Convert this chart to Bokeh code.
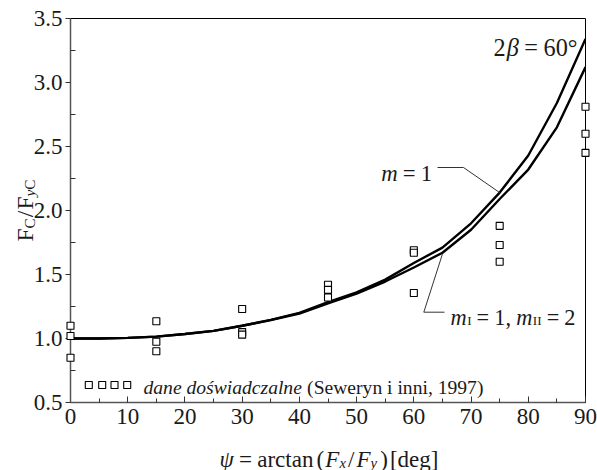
import glob
import os
import math

from bokeh.plotting import figure
from bokeh.models import Range1d, FixedTicker, PrintfTickFormatter, ColumnDataSource
from bokeh.core.properties import value
from bokeh.embed import file_html
from bokeh.resources import INLINE

# ---------------- data ----------------
psi_curve = [0, 5, 10, 15, 20, 25, 30, 35, 40, 45, 50, 55, 60, 65, 70, 75, 80, 85, 90]
fc_m1 = [1.00, 1.00, 1.005, 1.015, 1.035, 1.06, 1.10, 1.145, 1.20, 1.285, 1.36,
         1.46, 1.59, 1.71, 1.90, 2.14, 2.43, 2.84, 3.34]
fc_m1_m2 = [1.00, 1.00, 1.005, 1.015, 1.035, 1.06, 1.10, 1.143, 1.195, 1.275, 1.35,
            1.445, 1.555, 1.67, 1.85, 2.09, 2.32, 2.65, 3.12]

exp_psi = [0, 0, 0, 15, 15, 15, 30, 30, 30, 45, 45, 45, 60, 60, 60, 75, 75, 75, 90, 90, 90]
exp_fc = [1.10, 1.02, 0.85, 1.135, 0.975, 0.90, 1.23, 1.05, 1.03, 1.42, 1.38, 1.32,
          1.69, 1.67, 1.355, 1.88, 1.73, 1.60, 2.81, 2.60, 2.45]

x_ticks = [0, 10, 20, 30, 40, 50, 60, 70, 80, 90]
y_ticks = [0.5, 1.0, 1.5, 2.0, 2.5, 3.0, 3.5]

# ---------------- layout ----------------
W, H = 597, 470
LEFT, RIGHT, TOP, BOTTOM = 70, 585, 18, 402
X0, X1, Y0, Y1 = 0.0, 90.0, 0.5, 3.5
FONT = "Liberation Serif"
TXT = "#1a1a1a"


def px2d(px, py):
    return (X0 + (px - LEFT) * (X1 - X0) / (RIGHT - LEFT),
            Y0 + (BOTTOM - py) * (Y1 - Y0) / (BOTTOM - TOP))


def d2px(x, y):
    return (LEFT + (x - X0) * (RIGHT - LEFT) / (X1 - X0),
            BOTTOM - (y - Y0) * (BOTTOM - TOP) / (Y1 - Y0))


_fonts = {}


def _font(italic):
    if italic in _fonts:
        return _fonts[italic]
    f = None
    try:
        from PIL import ImageFont
        name = "LiberationSerif-Italic.ttf" if italic else "LiberationSerif-Regular.ttf"
        for d in ("/usr/share/fonts", "/usr/local/share/fonts", os.path.expanduser("~/.fonts")):
            hits = glob.glob(os.path.join(d, "**", name), recursive=True)
            if hits:
                f = ImageFont.truetype(hits[0], 100)
                break
    except Exception:
        f = None
    _fonts[italic] = f
    return f


def text_width(t, size, italic):
    f = _font(italic)
    if f is not None:
        try:
            return f.getlength(t) * size / 100.0
        except Exception:
            pass
    return 0.5 * size * len(t)


txt = dict(x=[], y=[], text=[], size=[], style=[], angle=[])


def rich(x_px, y_px, runs, angle=0.0, target=None):
    # runs: (text, size, italic, shift_down_px, pad_before_px)
    scale = 1.0
    if target:
        tot = sum(text_width(t, s, it) + pad for t, s, it, sh, pad in runs)
        if tot > 0:
            scale = target / tot
    c, s = math.cos(angle), math.sin(angle)
    adv = 0.0
    for t, size, italic, shift, pad in runs:
        size = size * scale
        adv += pad * scale
        sh = shift * scale
        bx = x_px + adv * c + sh * s
        by = y_px - adv * s + sh * c
        xd, yd = px2d(bx, by)
        txt["x"].append(xd)
        txt["y"].append(yd)
        txt["text"].append(t)
        txt["size"].append(f"{size:.2f}px")
        txt["style"].append("italic" if italic else "normal")
        txt["angle"].append(angle)
        adv += text_width(t, size, italic)


p = figure(width=W, height=H, output_backend="svg", toolbar_location=None,
           x_range=Range1d(X0, X1), y_range=Range1d(Y0, Y1),
           min_border_left=LEFT, min_border_right=W - RIGHT,
           min_border_top=TOP, min_border_bottom=H - BOTTOM)
p.background_fill_color = "white"
p.border_fill_color = "white"
p.outline_line_color = "black"
p.outline_line_width = 1
p.grid.visible = False

x_minor = [(a + b) / 2 for a, b in zip(x_ticks[:-1], x_ticks[1:])]
y_minor = [(a + b) / 2 for a, b in zip(y_ticks[:-1], y_ticks[1:])]
p.xaxis.ticker = FixedTicker(ticks=x_ticks, minor_ticks=x_minor)
p.yaxis.ticker = FixedTicker(ticks=y_ticks, minor_ticks=y_minor)
p.yaxis.formatter = PrintfTickFormatter(format="%.1f")

for ax in (p.xaxis, p.yaxis):
    ax.axis_line_color = "#555555"
    ax.axis_line_width = 1.5
    ax.major_tick_line_color = "#333333"
    ax.minor_tick_line_color = "#333333"
    ax.major_label_text_font = FONT
    ax.major_label_text_font_size = "23px"
    ax.major_label_text_color = TXT

p.xaxis.major_tick_in = 6
p.xaxis.major_tick_out = 0
p.xaxis.minor_tick_in = 4
p.xaxis.minor_tick_out = 0
p.xaxis.major_label_standoff = 6

p.yaxis.major_tick_in = 0
p.yaxis.major_tick_out = 5
p.yaxis.minor_tick_in = 5
p.yaxis.minor_tick_out = 0
p.yaxis.major_label_standoff = 3

# curves
p.line(psi_curve, fc_m1, line_color="black", line_width=2.4)
p.line(psi_curve, fc_m1_m2, line_color="black", line_width=2.4)

# experimental data (overlay level so the edge squares are not cut by the frame)
p.scatter(exp_psi, exp_fc, marker="square", size=7, fill_color="white",
          line_color="black", line_width=1.1, level="overlay")

# legend squares
leg_px = [88.3, 101.7, 114.0, 126.7]
leg_pts = [px2d(x, 384.5) for x in leg_px]
p.scatter([q[0] for q in leg_pts], [q[1] for q in leg_pts], marker="square", size=7,
          fill_color="white", line_color="black", line_width=1.1)
rich(143, 387, [("dane doświadczalne", 19, True, 0, 0),
                ("(Seweryn i inni, 1997)", 19, False, 0, 5)], target=340)

# leader line for m = 1 (ends on upper curve at psi = 75)
ex, ey = d2px(psi_curve[15], fc_m1[15])
pts = [(437, 167), (463, 167), (ex, ey)]
dd = [px2d(a, b) for a, b in pts]
p.line([q[0] for q in dd], [q[1] for q in dd], line_color="#333333", line_width=1)

# leader line for m_I = 1, m_II = 2 (ends on lower curve at psi = 65)
ex, ey = d2px(psi_curve[13], fc_m1_m2[13] - 0.01)
pts = [(444, 311.7), (423.3, 311.7), (ex, ey)]
dd = [px2d(a, b) for a, b in pts]
p.line([q[0] for q in dd], [q[1] for q in dd], line_color="#333333", line_width=1)

# annotations
rich(493, 46.5, [("2", 22, False, 0, 0), ("β", 22, True, 0, 1),
                 ("=", 22, False, 0, 5), ("60°", 22, False, 0, 5)], target=84)
rich(380.7, 173, [("m", 22, True, 0, 0), ("=", 22, False, 0, 5),
                  ("1", 22, False, 0, 5)], target=51)
rich(450, 316.5, [("m", 22, True, 0, 0), ("I", 13, False, 3, 0.5),
                  ("=", 22, False, 0, 5), ("1,", 22, False, 0, 5),
                  ("m", 22, True, 0, 5), ("II", 13, False, 3, 0.5),
                  ("=", 22, False, 0, 5), ("2", 22, False, 0, 5)], target=125)

# axis titles
rich(219, 458, [("ψ", 22, True, 0, 0), ("=", 22, False, 0, 5),
                ("arctan", 22, False, 0, 5), ("(", 22, False, 0, 3),
                ("F", 22, True, 0, 1), ("x", 14, True, 4, 0),
                ("/", 22, False, 0, 2), ("F", 22, True, 0, 2),
                ("y", 14, True, 4, 0), (")", 22, False, 0, 3),
                ("[deg]", 22, False, 0, 2)], target=219)
rich(24, 241, [("F", 23, False, 0, 0), ("C", 15, False, 5, 0),
               ("/", 23, False, 0, 1), ("F", 23, False, 0, 1),
               ("y", 15, True, 5, 0), ("C", 15, False, 5, 0)],
     angle=math.pi / 2, target=62)

src = ColumnDataSource(txt)
p.text(x="x", y="y", text="text", source=src, angle="angle",
       text_font=value(FONT), text_font_size="size", text_font_style="style",
       text_color=TXT, text_align="left", text_baseline="alphabetic",
       level="overlay")

open("out.html", "w").write(file_html(p, INLINE))
